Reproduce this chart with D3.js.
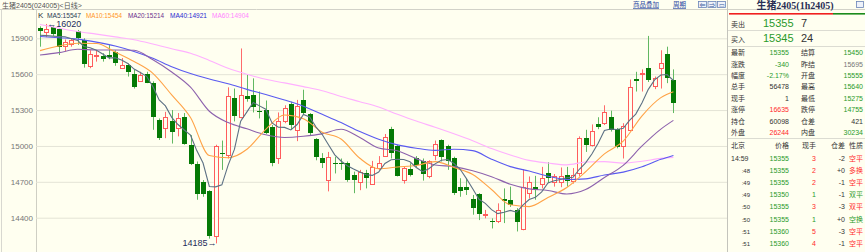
<!DOCTYPE html>
<html>
<head>
<meta charset="utf-8">
<script src="https://cdn.jsdelivr.net/npm/d3@7"></script>
<style>
  body { margin: 0; background: #fffff0; }
  svg { display: block; font-family: "Liberation Sans", "Noto Sans CJK SC", sans-serif; }
</style>
</head>
<body>
<div class="chart"></div>
<script>
var svgWidth = 865;
var svgHeight = 252;

// daily candles, oldest first
var opens = [15990,15955,15995,15975,15835,15850,15960,15885,15665,15755,15750,15760,15785,15655,15675,15600,15545,15600,15525,15215,
  15150,15205,15150,15245,15010,14850,14700,14625,14250,14945,14925,15400,15245,15420,15425,15295,15300,15160,14895,15210,
  15350,15135,15380,15265,15055,14895,14715,14860,14860,14855,14755,14695,14775,14680,14815,14915,15140,15000,14715,14805,
  14895,14875,14745,14925,15050,15000,14900,14655,14655,14560,14600,14425,14375,14375,14555,14550,14465,14305,14610,14660,
  14680,14775,14700,14695,14755,14705,14770,15065,15010,15180,15195,15245,15145,15000,15135,15560,15605,15650,15500,15650,
  15770,15555];
var highs = [16000,16020,16005,15985,15890,15900,15970,15900,15800,15800,15775,15845,15800,15735,15690,15635,15620,15620,15540,15230,
  15285,15300,15275,15275,15090,14870,14715,14630,15010,15045,15490,15480,15815,15595,15565,15455,15380,15175,15280,15340,
  15370,15385,15470,15275,15065,14940,14950,14910,14895,14870,14785,14800,14800,14875,14915,15100,15160,15010,14825,14855,
  14915,14895,14880,15045,15055,15010,14910,14730,14730,14590,14605,14465,14395,14520,14645,14660,14480,14805,14745,14750,
  14825,14865,14765,14820,14825,14815,15080,15135,15180,15240,15340,15295,15150,15190,15555,15620,15640,15920,15580,15800,
  15830,15640];
var lows = [15830,15910,15920,15760,15790,15830,15845,15655,15650,15705,15705,15725,15670,15650,15580,15480,15535,15525,15135,15050,
  15065,15020,15080,15010,14840,14550,14575,14225,14185,14800,14895,15205,15230,15370,15280,15230,15100,14830,14850,15190,
  15135,15040,15260,15085,14880,14815,14620,14770,14800,14700,14605,14630,14645,14675,14800,14910,14895,14745,14685,14745,
  14820,14710,14730,14880,14870,14800,14590,14575,14590,14425,14380,14395,14310,14355,14355,14490,14285,14295,14560,14550,
  14645,14690,14660,14655,14660,14685,14745,14950,14995,15140,15175,15120,14980,14895,15130,15455,15455,15535,15475,15480,
  15525,15275];
var closes = [15965,15975,15935,15825,15865,15885,15900,15685,15770,15760,15725,15740,15690,15675,15620,15490,15595,15530,15245,15065,
  15240,15115,15230,15015,14850,14595,14595,14250,15000,14935,15420,15250,15430,15390,15325,15280,15110,14855,15210,15320,
  15175,15335,15275,15105,14910,14855,14905,14850,14850,14715,14715,14785,14730,14825,14855,15075,14940,14750,14815,14755,
  14840,14765,14870,15020,14905,14870,14605,14625,14630,14480,14430,14435,14360,14465,14540,14505,14360,14655,14700,14630,
  14735,14735,14745,14750,14705,14755,15070,15010,15125,15155,15285,15130,14995,15170,15490,15545,15610,15550,15565,15695,
  15565,15355];

// MA5 read at every candle
var ma5 = [15925,15922,15918,15915,15913,15897,15882,15832,15821,15800,15768,15736,15737,15718,15690,15643,15614,15582,15496,15385,
  15335,15239,15179,15133,15090,14961,14857,14661,14658,14675,14840,14971,15207,15285,15363,15335,15307,15192,15156,15155,
  15134,15179,15263,15242,15160,15096,15010,14925,14874,14835,14807,14783,14759,14754,14782,14854,14885,14889,14887,14867,
  14820,14785,14809,14850,14880,14886,14854,14805,14727,14642,14554,14520,14467,14434,14446,14461,14446,14505,14552,14570,
  14616,14691,14709,14719,14734,14738,14805,14858,14933,15023,15129,15141,15138,15147,15214,15266,15362,15473,15552,15593,
  15597,15547];
// the slower averages, read every third candle
var maIdx = [1,4,7,10,13,16,19,22,25,28,31,34,37,40,43,46,49,52,55,58,61,64,67,70,73,76,79,82,85,88,91,94,97,100,102];
var ma10 = [15797,15836,15858,15857,15785,15706,15607,15427,15238,14920,14901,14972,15139,15259,15228,15115,15058,14897,14809,14824,
  14837,14869,14820,14761,14636,14508,14493,14569,14652,14784,14934,15040,15252,15404,15454];
var ma20 = [15760,15780,15808,15802,15802,15800,15720,15618,15491,15290,15195,15143,15094,15071,15081,15101,15139,15070,14983,14959,
  14894,14841,14827,14793,14743,14680,14641,14628,14598,14635,14736,14838,15000,15141,15214];
var ma40 = [15915,15905,15893,15868,15835,15790,15733,15662,15605,15560,15520,15473,15430,15384,15332,15264,15195,15120,15056,15009,
  14981,14963,14972,14961,14889,14827,14790,14747,14720,14725,14757,14781,14826,14888,14921];
var ma60 = [16015,15985,15957,15935,15912,15888,15852,15812,15775,15715,15650,15600,15557,15527,15496,15462,15414,15370,15325,15265,
  15208,15156,15102,15044,14978,14924,14879,14857,14842,14866,14869,14856,14872,14896,14904];

var yTicks = [15900, 15600, 15300, 15000, 14700, 14400];
var legendNames = ["MA5", "MA10", "MA20", "MA40", "MA60"];
var legendValues = [15547, 15454, 15214, 14921, 14904];

// quote panel
var leftLabels = ["最新", "涨跌", "幅度", "总手", "现手", "涨停", "持仓", "外盘"];
var leftValues = ["15355", "-340", "-2.17%", "56478", "1", "16635", "60098", "26244"];
var leftTones = ["g", "g", "g", "d", "d", "r", "d", "r"];
var rightLabels = ["结算", "昨结", "开盘", "最高", "最低", "跌停", "仓差", "内盘"];
var rightValues = ["15450", "15695", "15555", "15640", "15275", "14755", "421", "30234"];
var rightTones = ["g", "n", "g", "g", "g", "g", "d", "g"];

var tradeTimes = ["14:59", ":48", ":49", ":49", ":50", ":50", ":51", ":51"];
var tradePrices = ["15355", "15355", "15355", "15350", "15355", "15355", "15360", "15360"];
var tradeVols = ["3", "2", "2", "1", "3", "1", "5", "4"];
var tradeOI = ["-2", "+0", "-1", "-1", "-3", "+0", "-3", "-1"];
var tradeTypes = ["空平", "多换", "空平", "双平", "双平", "空换", "空平", "空平"];
var tradeTones = ["r", "r", "r", "g", "r", "g", "r", "r"];

var bg = "#fffff0";
var tone = { g: "#2a9a2a", r: "#ff2b2b", d: "#333333", n: "#777777" };
var maColors = ["#5d7184", "#ffa347", "#8d62ad", "#5a5af0", "#ffb0ff"];
var legendColors = ["#2b3d55", "#ff9426", "#6b2f8c", "#2c2cd0", "#ff85ff"];

var plotLeft = 36;
var plotRight = 727;

var svg = d3.select(".chart")
  .append("svg")
  .attr("width", svgWidth)
  .attr("height", svgHeight);

svg.append("rect")
  .attr("width", svgWidth)
  .attr("height", svgHeight)
  .attr("fill", bg);

var x = d3.scaleLinear().domain([1, 102]).range([40, 673.4]);
var y = d3.scaleLinear().domain([14400, 15900]).range([217.7, 38.3]);

// frame lines
svg.append("line").attr("x1", 0).attr("x2", svgWidth).attr("y1", 9.5).attr("y2", 9.5).attr("stroke", "#d2d2c8");
svg.append("line").attr("x1", 1.5).attr("x2", 1.5).attr("y1", 10).attr("y2", svgHeight).attr("stroke", "#d8d8d0");
svg.append("line").attr("x1", plotLeft + 0.5).attr("x2", plotLeft + 0.5).attr("y1", 10).attr("y2", svgHeight).attr("stroke", "#cfcfc4");
svg.append("line").attr("x1", plotRight + 0.5).attr("x2", plotRight + 0.5).attr("y1", 0).attr("y2", svgHeight).attr("stroke", "#c4c4bc");

// y axis with grid
var yAxis = svg.append("g")
  .attr("transform", `translate(${plotLeft}, 0)`)
  .call(d3.axisLeft(y).tickValues(yTicks).tickSize(-(plotRight - plotLeft)).tickFormat(d3.format("d")));
yAxis.select(".domain").remove();
yAxis.selectAll(".tick line").attr("stroke", "#e4e4d6");
yAxis.selectAll(".tick text")
  .attr("fill", "#777")
  .attr("font-size", "8px")
  .attr("font-family", "Liberation Sans, sans-serif");

// candles
var candles = closes.map((c, i) => ({ i: i + 1, o: opens[i], h: highs[i], l: lows[i], c: c }));
var candleGroup = svg.append("g");

candleGroup.selectAll(".wick")
  .data(candles)
  .enter()
  .append("line")
  .attr("x1", d => Math.round(x(d.i)) + 0.5)
  .attr("x2", d => Math.round(x(d.i)) + 0.5)
  .attr("y1", d => y(d.h))
  .attr("y2", d => y(d.l))
  .attr("stroke", d => d.c >= d.o ? "#ff6b6b" : "#62b862");

candleGroup.selectAll(".down")
  .data(candles.filter(d => d.c < d.o))
  .enter()
  .append("rect")
  .attr("x", d => Math.round(x(d.i)) - 2)
  .attr("width", 5)
  .attr("y", d => Math.round(y(d.o)))
  .attr("height", d => Math.max(1, Math.round(y(d.c)) - Math.round(y(d.o))))
  .attr("fill", "#057a05");

candleGroup.selectAll(".up")
  .data(candles.filter(d => d.c >= d.o))
  .enter()
  .append("rect")
  .attr("x", d => Math.round(x(d.i)) - 1.5)
  .attr("width", 4)
  .attr("y", d => Math.round(y(d.c)) + 0.5)
  .attr("height", d => Math.max(1, Math.round(y(d.o)) - Math.round(y(d.c))))
  .attr("fill", bg)
  .attr("stroke", "#ff5c5c");

// moving averages
var line = d3.line().x(d => x(d[0])).y(d => y(d[1]));
var smooth = d3.line().x(d => x(d[0])).y(d => y(d[1])).curve(d3.curveMonotoneX);
var slowSets = [ma60, ma40, ma20, ma10];
var slowColors = [maColors[4], maColors[3], maColors[2], maColors[1]];

slowSets.forEach(function(vals, k) {
  svg.append("path")
    .attr("d", smooth(vals.map((v, j) => [maIdx[j], v])))
    .attr("fill", "none")
    .attr("stroke", slowColors[k])
    .attr("stroke-width", 1.1);
});

svg.append("path")
  .attr("d", line(ma5.map((v, j) => [j + 1, v])))
  .attr("fill", "none")
  .attr("stroke", maColors[0])
  .attr("stroke-width", 1.1);

// high / low markers
svg.append("text")
  .attr("x", x(2) + 1)
  .attr("y", y(16020) + 3.5)
  .attr("font-size", "9px")
  .attr("fill", "#1e2d5c")
  .text("←16020");

svg.append("text")
  .attr("x", x(29) + 1)
  .attr("y", y(14185) + 3)
  .attr("text-anchor", "end")
  .attr("font-size", "9px")
  .attr("fill", "#1e2d5c")
  .text("14185→");

// legend
var legendX = [47, 86, 128, 170, 212];
var legendW = [34, 36, 36, 37, 37];
svg.append("text").attr("x", 38).attr("y", 17.5).attr("font-size", "8px").attr("fill", "#333").text("K");
legendNames.forEach(function(name, k) {
  svg.append("text")
    .attr("x", legendX[k])
    .attr("y", 17.5)
    .attr("font-size", "8px")
    .attr("textLength", legendW[k])
    .attr("lengthAdjust", "spacingAndGlyphs")
    .attr("fill", legendColors[k])
    .text(name + ":" + legendValues[k]);
});

// title bar
svg.append("text")
  .attr("x", 2)
  .attr("y", 7.5)
  .attr("font-size", "7px")
  .attr("fill", "#555")
  .text("生猪2405(024005)<日线>");

svg.append("text").attr("x", 633).attr("y", 7).attr("font-size", "6.5px").attr("fill", "#2946a0")
  .attr("text-decoration", "underline").text("商品叠加");
svg.append("text").attr("x", 673).attr("y", 7).attr("font-size", "6.5px").attr("fill", "#2946a0")
  .attr("text-decoration", "underline").text("周期");

var iconGlyphs = ["⇐", "⇒", "▭"];
iconGlyphs.forEach(function(g, k) {
  svg.append("rect")
    .attr("x", 698.5 + k * 9.5).attr("y", 1.5).attr("width", 8).attr("height", 6)
    .attr("fill", "#eef2fa").attr("stroke", "#6a84b8").attr("stroke-width", 0.8);
  svg.append("text")
    .attr("x", 702.5 + k * 9.5).attr("y", 7).attr("text-anchor", "middle")
    .attr("font-size", "6px").attr("fill", "#3a5a9a").text(g);
});

// quote panel
var panel = svg.append("g");

panel.append("text")
  .attr("x", 795)
  .attr("y", 9)
  .attr("text-anchor", "middle")
  .attr("font-size", "10px")
  .attr("font-weight", "bold")
  .attr("font-family", "Liberation Serif, Noto Sans CJK SC, serif")
  .attr("fill", "#2a2f55")
  .text("生猪2405(1h2405)");

panel.append("rect").attr("x", 856.5).attr("y", 1.5).attr("width", 7).attr("height", 6)
  .attr("fill", "#eef2fa").attr("stroke", "#6a84b8").attr("stroke-width", 0.8);

panel.append("rect").attr("x", 729).attr("y", 13).attr("width", 104).attr("height", 1.6).attr("fill", "#f02020");
panel.append("rect").attr("x", 833).attr("y", 13).attr("width", 32).attr("height", 1.6).attr("fill", "#1c8c1c");

[30.5, 46.5, 138.5].forEach(function(yy) {
  panel.append("line").attr("x1", 728).attr("x2", svgWidth).attr("y1", yy).attr("y2", yy).attr("stroke", "#dcdcd2");
});

var bookRows = [["卖出", "15355", "7", 27], ["买入", "15345", "24", 42]];
bookRows.forEach(function(r) {
  panel.append("text").attr("x", 731).attr("y", r[3] - 0.5).attr("font-size", "7px").attr("fill", "#333").text(r[0]);
  panel.append("text").attr("x", 763).attr("y", r[3]).attr("font-size", "11px").attr("fill", tone.g).text(r[1]);
  panel.append("text").attr("x", 801).attr("y", r[3]).attr("font-size", "11px").attr("fill", "#333").text(r[2]);
});

var rowY = d3.scaleLinear().domain([0, 7]).range([55.2, 135.2]);
leftLabels.forEach(function(lab, k) {
  panel.append("text").attr("x", 731).attr("y", rowY(k)).attr("font-size", "7px").attr("fill", "#333").text(lab);
  panel.append("text").attr("x", 789).attr("y", rowY(k)).attr("text-anchor", "end").attr("font-size", "7px")
    .attr("fill", tone[leftTones[k]]).text(leftValues[k]);
  panel.append("text").attr("x", 801).attr("y", rowY(k)).attr("font-size", "7px").attr("fill", "#333").text(rightLabels[k]);
  panel.append("text").attr("x", 863).attr("y", rowY(k)).attr("text-anchor", "end").attr("font-size", "7px")
    .attr("fill", tone[rightTones[k]]).text(rightValues[k]);
});

// ticks list
var headY = 147.5;
panel.append("text").attr("x", 731).attr("y", headY).attr("font-size", "7px").attr("fill", "#333").text("北京");
panel.append("text").attr("x", 789).attr("y", headY).attr("text-anchor", "end").attr("font-size", "7px").attr("fill", "#333").text("价格");
panel.append("text").attr("x", 816).attr("y", headY).attr("text-anchor", "end").attr("font-size", "7px").attr("fill", "#333").text("现手");
panel.append("text").attr("x", 845).attr("y", headY).attr("text-anchor", "end").attr("font-size", "7px").attr("fill", "#333").text("仓差");
panel.append("text").attr("x", 849).attr("y", headY).attr("font-size", "7px").attr("fill", "#333").text("性质");

var tradeY = d3.scaleLinear().domain([0, 7]).range([160.8, 245.8]);
tradeTimes.forEach(function(t, k) {
  panel.append("text").attr("x", k === 0 ? 731 : 750).attr("y", tradeY(k))
    .attr("text-anchor", k === 0 ? "start" : "end").attr("font-size", k === 0 ? "7px" : "6px").attr("fill", "#333").text(t);
  panel.append("text").attr("x", 789).attr("y", tradeY(k)).attr("text-anchor", "end").attr("font-size", "7px")
    .attr("fill", tone.g).text(tradePrices[k]);
  panel.append("text").attr("x", 816).attr("y", tradeY(k)).attr("text-anchor", "end").attr("font-size", "7px")
    .attr("fill", tone[tradeTones[k]]).text(tradeVols[k]);
  panel.append("text").attr("x", 845).attr("y", tradeY(k)).attr("text-anchor", "end").attr("font-size", "7px")
    .attr("fill", "#333").text(tradeOI[k]);
  panel.append("text").attr("x", 849).attr("y", tradeY(k)).attr("font-size", "7px")
    .attr("fill", tone[tradeTones[k]]).text(tradeTypes[k]);
});
</script>
</body>
</html>
